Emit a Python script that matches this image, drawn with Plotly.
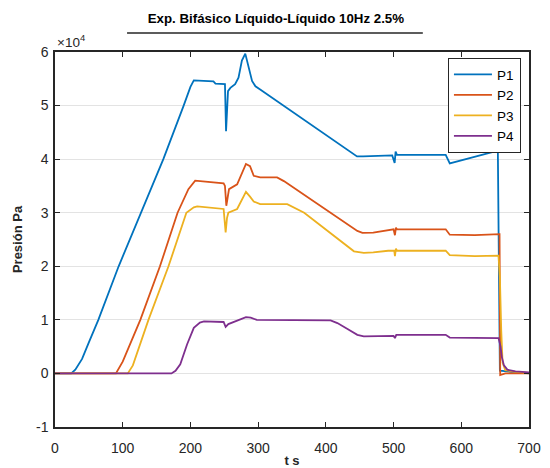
import plotly.graph_objects as go

# ---- data (time in s, pressure in Pa) ----
t_p1 = [0, 24, 30, 40, 50, 64, 94, 127, 160, 190, 200, 205, 234, 237, 251, 252.6, 255.5, 259, 266, 271, 276, 281, 286, 291, 296, 303, 446, 455, 498, 501.6, 503, 505, 577, 583, 654, 656, 657, 700]
p1 = [0, 0, 700, 2700, 5800, 10000, 20000, 30000, 40000, 50000, 53500, 54700, 54500, 54100, 54000, 45200, 52700, 53300, 54000, 55200, 58400, 59700, 57100, 54600, 53600, 53000, 40500, 40500, 40700, 39300, 41400, 40800, 40800, 39200, 41600, 3000, 500, 0]

t_p2 = [0, 90, 100, 126, 155, 181, 197, 207, 249, 251, 253, 257, 269, 276, 282, 288, 293.5, 303, 328, 338, 446.5, 454, 470, 500, 502, 503.5, 505, 577, 583, 620, 654, 656.5, 657.5, 665, 700]
p2 = [0, 0, 2200, 10000, 20000, 30000, 34400, 36000, 35500, 35000, 31300, 34400, 35300, 37500, 39100, 38700, 36900, 36600, 36600, 35900, 26600, 26250, 26300, 26900, 25800, 27200, 26900, 26900, 25900, 25800, 26100, 26000, -300, 0, 0]

t_p3 = [0, 107.5, 115, 138, 167.6, 194, 205, 210, 249, 250.5, 252, 254, 256, 269, 276, 282, 288, 293.5, 303, 343, 368, 441.5, 456, 470, 492, 501, 502, 503.5, 505, 577, 583, 620, 655, 657, 659, 661, 665, 680, 700]
p3 = [0, 0, 1500, 10000, 20000, 30000, 31000, 31200, 30700, 29000, 26300, 29000, 30000, 30700, 32500, 33900, 33000, 32100, 31600, 31600, 30000, 22800, 22500, 22600, 22900, 22900, 21900, 23300, 22900, 22900, 22100, 21900, 22000, 18000, 8000, 2000, 600, 300, 100]

t_p4 = [0, 172, 178, 185, 195, 205, 214, 220, 249, 252, 256, 269, 282, 289, 298, 407, 417, 432, 446.5, 456, 500, 502, 504, 577, 583, 655, 658, 660, 663, 668, 680, 700]
p4 = [0, 0, 500, 1700, 5400, 8500, 9500, 9700, 9600, 8700, 9200, 9800, 10500, 10400, 10000, 9900, 9400, 8300, 7200, 6900, 7000, 6600, 7200, 7200, 6700, 6600, 5000, 3000, 1500, 700, 400, 200]

series_names = ["P1", "P2", "P3", "P4"]
series_colors = ["#0072BD", "#D95319", "#EDB120", "#7E2F8E"]

x_ticks = [0, 100, 200, 300, 400, 500, 600, 700]
y_ticks = [-10000, 0, 10000, 20000, 30000, 40000, 50000, 60000]
y_ticktext = ["-1", "0", "1", "2", "3", "4", "5", "6"]

FONT = "Liberation Sans, Arial, Helvetica, sans-serif"
AX = "#262626"

fig = go.Figure()
for t, v, name, col in zip([t_p1, t_p2, t_p3, t_p4], [p1, p2, p3, p4], series_names, series_colors):
    fig.add_trace(go.Scatter(x=t, y=v, mode="lines", name=name,
                             line=dict(color=col, width=1.8)))

fig.update_layout(
    width=550, height=468,
    margin=dict(l=55, r=21, t=52, b=41, autoexpand=False),
    paper_bgcolor="white", plot_bgcolor="white",
    font=dict(family=FONT, size=13, color=AX),
    title=dict(text="<b>Exp. Bifásico Líquido-Líquido 10Hz 2.5%</b>",
               x=0.466, xref="paper", xanchor="center",
               y=1 - 18 / 468, yref="container", yanchor="middle",
               font=dict(size=13.3, color="#000000")),
    showlegend=True,
    legend=dict(x=0.983, y=0.984, xanchor="right", yanchor="top",
                bgcolor="white", bordercolor="#262626", borderwidth=1,
                font=dict(size=13.5, color="#000000"),
                itemwidth=38, tracegroupgap=0),
    xaxis=dict(range=[0, 700], tickvals=x_ticks, showgrid=False, automargin=False,
               zeroline=False, showline=True, linecolor=AX, linewidth=1.5,
               mirror="ticks", ticks="inside", ticklen=5, tickcolor=AX,
               tickfont=dict(size=14, color=AX), ticklabelstandoff=7,
               title=dict(text="<b>t s</b>", font=dict(size=13, color=AX), standoff=8)),
    yaxis=dict(range=[-10000, 60000], tickvals=y_ticks, ticktext=y_ticktext,
               showgrid=True, gridcolor="#e3e3e3", gridwidth=1, automargin=False,
               zeroline=False, showline=True, linecolor=AX, linewidth=1.5,
               mirror="ticks", ticks="inside", ticklen=5, tickcolor=AX,
               tickfont=dict(size=14, color=AX), ticklabelstandoff=2,
               title=dict(text="<b>Presión Pa</b>", font=dict(size=13, color=AX), standoff=10)),
)

fig.add_annotation(text="×10<sup>4</sup>", xref="paper", yref="paper",
                   x=0.0, y=1.0, xanchor="left", yanchor="bottom",
                   showarrow=False, font=dict(size=13.5, color=AX))

fig.add_shape(type="line", xref="paper", yref="paper",
              x0=0.152, x1=0.776, y0=1.0507, y1=1.0507,
              line=dict(color="#262626", width=1.5))

fig.write_html("out.html")
